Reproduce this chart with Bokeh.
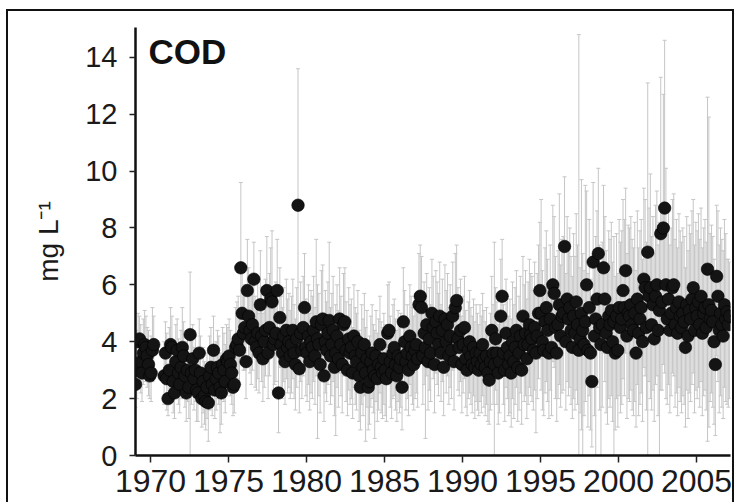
import math
from bokeh.plotting import figure
from bokeh.models import (ColumnDataSource, Range1d, Whisker, TeeHead, Label,
                          FixedTicker, InlineStyleSheet)
from bokeh.embed import file_html
from bokeh.resources import INLINE

N = None
first_year = 1969
# monthly COD means, Jan 1969 .. Feb 2007 (None = no sample)
cod_mean = [
    2.5, 3.0, 4.0, 4.1, 3.3, 2.9, 3.6, 3.9, 3.8, 3.5, 3.2, 2.8,      # 1969
    2.9, 3.7, 3.9, N, N, N, N, N, N, N, 2.8, 3.6,                    # 1970
    2.7, 2.0, 3.0, 3.9, 3.8, 2.6, 2.2, 3.3, 3.7, 2.9, 2.5, 3.1,      # 1971
    3.8, 3.5, 2.8, 2.2, 3.0, 2.4, 4.25, 2.9, 3.4, 2.7, 3.0, 2.3,     # 1972
    2.2, 3.6, 2.9, 2.0, 2.6, 2.1, 1.9, 2.4, 1.85, 2.8, 3.1, 2.5,     # 1973
    3.7, 2.3, 2.7, 3.1, 2.9, 2.4, 2.2, 3.2, 3.0, 2.6, 3.4, 3.3,      # 1974
    3.5, 3.2, 2.9, 2.4, 2.5, 3.8, 3.9, 4.1, 3.7, 6.6, 5.0, 4.3,      # 1975
    4.5, 3.3, 5.8, 4.9, 4.4, 4.1, 4.6, 6.2, 4.0, 3.8, 4.3, 3.6,      # 1976
    5.3, 4.2, 3.4, 4.0, 4.4, 5.8, 3.6, 4.5, 5.5, 5.4, 3.9, 4.1,      # 1977
    4.3, 5.8, 2.2, 4.85, 3.9, 3.6, 4.2, 3.3, 4.4, 3.8, 4.0, 3.5,     # 1978
    3.9, 4.4, 3.6, 3.2, 4.1, 8.8, 3.05, 4.3, 3.7, 4.5, 5.2, 3.8,     # 1979
    3.6, 4.2, 3.3, 4.0, 3.8, 4.4, 3.5, 4.7, 4.1, 3.9, 3.2, 4.6,      # 1980
    4.8, 2.8, 4.0, 3.7, 4.3, 4.75, 3.5, 3.9, 4.4, 3.1, 3.6, 4.2,     # 1981
    3.4, 4.8, 3.9, 3.2, 4.6, 4.7, 3.7, 3.0, 4.1, 3.6, 3.8, 2.9,      # 1982
    4.2, 3.5, 3.3, 4.0, 2.8, 2.4, 3.6, 3.1, 3.9, 2.9, 3.4, 2.4,      # 1983
    2.6, 3.3, 3.6, 3.0, 2.8, 3.5, 2.7, 3.2, 3.9, 3.1, 2.9, 3.4,      # 1984
    3.0, 2.7, 4.3, 4.4, 3.3, 2.9, 3.6, 3.8, 3.2, 2.8, 3.5, 3.1,      # 1985
    3.4, 2.4, 4.7, 4.0, 3.3, 3.6, 3.0, 4.2, 3.8, 3.5, 3.2, 3.7,      # 1986
    3.9, 3.4, 5.3, 5.6, 5.2, 3.5, 4.3, 3.8, 4.6, 3.3, 4.1, 3.6,      # 1987
    5.0, 4.5, 3.2, 4.7, 4.3, 3.9, 4.9, 3.6, 4.4, 3.1, 4.8, 4.0,      # 1988
    4.6, 3.5, 4.2, 3.7, 4.9, 3.3, 5.2, 5.45, 4.1, 3.8, 4.4, 3.2,     # 1989
    3.9, 4.5, 3.4, 3.0, 3.7, 4.0, 3.5, 3.2, 3.8, 3.1, 3.6, 3.3,      # 1990
    3.0, 3.6, 3.2, 3.9, 3.4, 3.1, 3.5, 2.9, 2.65, 3.3, 4.4, 3.6,     # 1991
    3.2, 4.1, 3.6, 2.9, 3.3, 4.9, 5.6, 3.6, 3.0, 4.3, 3.8, 3.2,      # 1992
    3.5, 2.9, 4.0, 3.3, 3.8, 4.4, 3.1, 3.6, 4.2, 3.0, 4.9, 3.9,      # 1993
    4.3, 3.4, 3.9, 4.6, 4.25, 4.1, 3.7, 4.5, 3.6, 4.2, 5.0, 5.8,     # 1994
    5.0, 4.0, 3.7, 4.7, 5.2, 4.4, 3.6, 4.8, 3.8, 6.0, 5.7, 4.5,      # 1995
    3.6, 4.6, 5.3, 4.2, 4.9, 5.0, 7.35, 4.0, 5.5, 4.8, 5.2, 4.4,     # 1996
    3.8, 4.9, 4.3, 5.4, 4.6, 3.7, 4.1, 5.0, 4.4, 3.9, 4.7, 6.0,      # 1997
    3.7, 5.2, 3.6, 2.6, 6.8, 4.2, 4.8, 5.5, 7.1, 4.5, 3.9, 4.6,      # 1998
    6.6, 5.5, 4.3, 3.8, 4.9, 4.6, 5.1, 4.0, 4.7, 3.6, 4.9, 3.7,      # 1999
    5.2, 4.5, 4.8, 5.8, 5.2, 6.5, 4.2, 5.0, 4.9, 5.3, 4.6, 4.4,      # 2000
    5.0, 3.6, 5.5, 4.3, 4.8, 5.2, 4.0, 6.2, 5.9, 4.5, 7.15, 5.6,     # 2001
    5.9, 4.6, 5.3, 4.1, 5.6, 6.0, 4.4, 5.1, 7.8, 5.4, 8.0, 8.7,      # 2002
    6.0, 4.8, 5.5, 4.4, 5.0, 5.9, 6.0, 4.6, 5.2, 4.3, 5.4, 4.9,      # 2003
    4.5, 5.0, 4.7, 3.8, 5.3, 4.2, 5.1, 4.8, 5.5, 5.9, 4.4, 5.2,      # 2004
    4.9, 5.4, 4.6, 5.6, 4.3, 5.0, 5.2, 4.5, 6.55, 5.3, 4.8, 5.1,     # 2005
    4.7, 4.0, 3.2, 6.3, 5.6, 4.4, 5.0, 4.6, 4.2, 5.3, 4.8, 5.05,     # 2006
    4.6, 4.9,                                                        # 2007
]
cod_upper = [
    3.8, 4.4, 5.0, 4.9, 4.6, 4.1, 4.8, 5.1, 4.9, 4.5, 4.4, 3.9,      # 1969
    4.2, 5.2, 4.9, N, N, N, N, N, N, N, 4.0, 4.7,                    # 1970
    4.3, 3.1, 4.5, 5.2, 4.9, 3.9, 3.4, 4.6, 4.8, 4.1, 3.6, 4.4,      # 1971
    5.2, 4.7, 4.0, 3.4, 4.3, 3.6, 6.45, 4.1, 4.6, 3.8, 4.2, 3.5,     # 1972
    3.5, 4.8, 4.2, 3.0, 3.8, 3.3, 2.9, 3.6, 2.8, 4.2, 4.5, 3.7,      # 1973
    4.9, 3.5, 4.0, 4.4, 4.2, 3.6, 3.4, 4.5, 4.3, 3.9, 4.6, 4.5,      # 1974
    4.8, 4.4, 4.1, 3.6, 3.7, 5.2, 5.4, 5.6, 5.0, 9.6, 6.5, 5.8,      # 1975
    6.0, 4.6, 7.6, 6.6, 6.0, 5.7, 6.3, 7.5, 5.6, 5.3, 6.1, 5.0,      # 1976
    7.2, 5.9, 5.0, 5.7, 6.2, 7.7, 5.2, 6.4, 7.3, 7.9, 5.6, 5.8,      # 1977
    6.1, 7.6, 3.6, 6.6, 5.6, 5.2, 5.9, 4.9, 6.2, 5.5, 5.7, 5.1,      # 1978
    5.6, 6.2, 5.3, 4.8, 5.9, 13.6, 4.6, 6.1, 5.4, 6.3, 7.1, 5.5,     # 1979
    5.3, 6.0, 5.0, 5.8, 5.6, 6.3, 5.2, 7.6, 6.0, 5.7, 4.9, 6.5,      # 1980
    6.7, 4.4, 5.8, 5.4, 6.1, 7.5, 5.2, 5.7, 6.3, 4.7, 5.3, 6.0,      # 1981
    5.1, 6.6, 5.6, 4.9, 6.4, 6.6, 5.4, 4.6, 5.9, 5.3, 5.5, 4.5,      # 1982
    6.0, 5.2, 5.0, 5.8, 4.4, 3.9, 5.3, 4.8, 5.7, 4.5, 5.1, 4.0,      # 1983
    4.2, 4.9, 5.3, 4.6, 4.4, 5.1, 4.3, 4.8, 5.6, 4.7, 4.5, 5.0,      # 1984
    4.6, 4.3, 6.0, 6.1, 4.9, 4.5, 5.3, 5.5, 4.8, 4.4, 5.1, 4.7,      # 1985
    5.0, 3.9, 6.6, 5.8, 4.9, 5.3, 4.6, 6.0, 5.6, 5.2, 4.9, 5.4,      # 1986
    5.7, 5.1, 7.1, 7.4, 7.0, 5.2, 6.1, 5.6, 6.4, 5.0, 5.9, 5.3,      # 1987
    6.9, 6.3, 4.9, 6.5, 6.1, 5.7, 6.8, 5.3, 6.2, 4.8, 6.7, 5.8,      # 1988
    6.4, 5.2, 6.0, 5.4, 6.8, 5.0, 7.1, 7.4, 5.9, 5.5, 6.2, 4.9,      # 1989
    5.6, 6.3, 5.1, 4.6, 5.4, 5.8, 5.2, 4.9, 5.5, 4.7, 5.3, 5.0,      # 1990
    4.6, 5.3, 4.9, 5.7, 5.1, 4.7, 5.2, 4.5, 4.2, 5.0, 6.3, 5.3,      # 1991
    7.5, 5.9, 5.4, 4.6, 5.0, 6.9, 7.6, 5.3, 4.7, 6.2, 5.6, 4.9,      # 1992
    5.5, 4.8, 6.1, 5.3, 5.9, 6.5, 5.0, 5.6, 6.3, 4.9, 7.0, 6.0,      # 1993
    6.5, 5.5, 6.1, 6.9, 6.4, 6.3, 5.8, 6.8, 5.7, 6.4, 7.4, 8.2,      # 1994
    9.0, 6.5, 6.0, 7.3, 7.9, 6.9, 5.9, 7.4, 6.1, 8.8, 8.4, 7.0,      # 1995
    6.0, 7.2, 9.2, 6.7, 7.6, 7.7, 9.8, 6.4, 8.4, 7.5, 8.0, 7.0,      # 1996
    6.3, 7.8, 7.0, 8.5, 7.4, 14.8, 6.6, 9.7, 7.1, 6.5, 9.5, 9.3,     # 1997
    6.4, 8.3, 6.2, 4.9, 9.6, 7.0, 7.7, 8.6, 10.1, 7.4, 6.6, 7.5,     # 1998
    9.5, 8.4, 7.2, 6.5, 7.9, 7.6, 8.2, 6.8, 7.7, 6.3, 7.8, 6.4,      # 1999
    8.3, 7.5, 7.9, 9.0, 8.3, 9.4, 7.1, 8.1, 8.0, 8.4, 7.6, 7.3,      # 2000
    8.2, 6.5, 8.6, 7.3, 7.9, 8.3, 6.9, 9.4, 9.0, 7.5, 13.1, 8.7,     # 2001
    9.9, 7.7, 8.4, 7.1, 8.8, 9.3, 7.4, 8.2, 13.3, 8.5, 12.7, 14.6,   # 2002
    10.1, 7.9, 8.6, 7.4, 8.0, 9.0, 9.2, 7.6, 8.3, 7.3, 8.5, 7.9,     # 2003
    7.5, 8.0, 7.7, 6.6, 8.4, 7.2, 8.1, 7.8, 8.6, 9.0, 7.4, 8.2,      # 2004
    7.9, 8.5, 7.6, 8.7, 7.3, 8.0, 8.3, 7.5, 12.6, 11.9, 7.8, 8.1,    # 2005
    7.7, 6.9, 6.1, 8.8, 8.6, 7.4, 8.0, 7.6, 7.2, 8.3, 7.8, 6.9,      # 2006
    6.9, 6.8,                                                        # 2007
]
cod_lower = [
    1.7, 2.0, 2.9, 3.1, 2.2, 1.9, 2.5, 2.9, 2.6, 2.4, 2.1, 2.0,      # 1969
    1.9, 2.6, 2.8, N, N, N, N, N, N, N, 1.8, 2.6,                    # 1970
    1.6, 1.4, 1.9, 2.8, 2.7, 1.5, 1.3, 2.2, 2.6, 1.8, 1.5, 2.0,      # 1971
    2.7, 2.4, 1.7, 1.2, 1.9, 1.3, 0.0, 1.8, 2.3, 1.6, 1.9, 1.2,      # 1972
    1.2, 2.5, 1.8, 1.0, 1.5, 1.1, 0.9, 1.3, 0.5, 1.6, 2.0, 1.4,      # 1973
    2.6, 1.3, 1.6, 2.0, 1.8, 0.8, 1.1, 2.1, 1.9, 1.5, 2.3, 2.2,      # 1974
    2.4, 2.1, 1.8, 1.4, 1.5, 2.6, 2.7, 2.9, 2.5, 3.6, 3.5, 3.0,      # 1975
    3.0, 2.0, 4.0, 3.2, 2.9, 2.5, 3.0, 4.6, 2.4, 2.3, 2.7, 2.2,      # 1976
    3.4, 2.6, 1.9, 2.4, 2.8, 3.9, 2.0, 2.8, 3.6, 3.5, 2.3, 2.5,      # 1977
    2.6, 4.0, 0.8, 3.1, 2.3, 2.0, 2.6, 1.8, 2.7, 2.2, 2.4, 2.0,      # 1978
    2.2, 2.7, 2.0, 1.6, 2.4, 4.0, 1.5, 2.6, 2.0, 2.8, 3.3, 2.1,      # 1979
    1.9, 2.5, 1.6, 2.2, 2.0, 2.6, 1.8, 2.8, 0.6, 2.1, 1.5, 2.8,      # 1980
    2.9, 1.2, 2.2, 1.9, 2.5, 2.8, 1.8, 2.1, 2.6, 1.4, 0.7, 2.4,      # 1981
    1.7, 2.9, 2.1, 1.5, 2.8, 2.9, 1.9, 1.4, 2.3, 1.8, 2.0, 1.3,      # 1982
    2.4, 1.8, 1.6, 2.2, 1.2, 0.9, 1.8, 1.4, 2.1, 0.5, 1.7, 0.9,      # 1983
    1.1, 1.7, 2.0, 1.5, 0.6, 1.9, 1.2, 1.6, 2.2, 1.5, 1.3, 1.8,      # 1984
    1.4, 1.2, 2.6, 2.7, 1.7, 1.3, 2.0, 2.1, 1.6, 1.2, 1.9, 1.5,      # 1985
    1.7, 0.9, 2.9, 2.3, 1.6, 2.0, 1.4, 2.5, 2.1, 1.8, 1.6, 2.0,      # 1986
    2.2, 1.7, 3.5, 3.8, 3.4, 1.8, 2.5, 0.6, 2.8, 1.6, 2.3, 1.9,      # 1987
    3.1, 2.7, 1.5, 2.9, 2.5, 2.1, 3.0, 1.9, 2.6, 1.4, 2.9, 2.2,      # 1988
    2.8, 1.8, 2.4, 2.0, 3.0, 1.6, 3.3, 3.5, 2.3, 2.1, 2.6, 1.5,      # 1989
    2.2, 2.7, 1.7, 1.4, 2.0, 2.2, 1.8, 1.5, 2.1, 1.3, 1.9, 1.6,      # 1990
    1.4, 1.9, 1.5, 2.1, 1.7, 1.4, 1.8, 1.2, 1.1, 1.6, 2.5, 1.8,      # 1991
    0.0, 2.3, 1.8, 1.1, 1.5, 2.9, 3.6, 1.8, 1.2, 2.4, 2.0, 1.4,      # 1992
    1.5, 1.0, 2.0, 1.3, 1.8, 2.4, 1.2, 1.6, 2.2, 1.1, 2.9, 1.9,      # 1993
    2.1, 1.3, 1.8, 2.4, 2.1, 1.9, 1.6, 2.3, 0.8, 2.0, 2.7, 3.4,      # 1994
    2.3, 1.6, 1.4, 2.2, 2.6, 1.9, 1.3, 2.3, 1.4, 3.3, 3.1, 2.0,      # 1995
    1.2, 2.0, 2.5, 1.7, 2.2, 2.3, 4.6, 1.6, 2.6, 2.1, 2.4, 1.8,      # 1996
    1.3, 2.0, 1.6, 2.3, 1.8, 0.0, 1.5, 0.9, 0.0, 1.4, 1.9, 2.7,      # 1997
    1.0, 2.1, 0.9, 0.3, 3.8, 1.4, 0.0, 2.4, 4.1, 1.6, 0.0, 1.7,      # 1998
    3.6, 2.6, 1.5, 1.1, 2.0, 1.7, 2.1, 1.2, 0.0, 0.9, 2.0, 1.0,      # 1999
    2.1, 1.5, 1.8, 2.7, 2.1, 3.6, 1.3, 2.0, 1.9, 2.3, 1.6, 1.4,      # 2000
    1.9, 1.0, 2.5, 1.4, 1.8, 2.2, 1.2, 3.1, 2.8, 1.6, 0.0, 2.6,      # 2001
    2.0, 1.6, 2.3, 1.2, 2.5, 2.8, 1.4, 0.0, 2.3, 2.3, 3.2, 2.9,      # 2002
    2.0, 1.8, 2.5, 1.5, 2.1, 2.9, 2.8, 1.7, 2.2, 1.4, 2.4, 1.9,      # 2003
    1.5, 2.1, 1.8, 1.0, 2.3, 1.3, 2.2, 1.9, 2.5, 2.9, 1.5, 2.3,      # 2004
    2.0, 2.4, 1.7, 2.6, 1.4, 2.1, 2.3, 1.6, 0.5, 1.0, 1.9, 2.2,      # 2005
    1.7, 1.1, 0.7, 3.5, 2.6, 1.5, 2.1, 1.7, 1.3, 2.4, 1.9, 1.8,      # 2006
    1.7, 2.0,                                                        # 2007
]
year_ticks = [1970, 1975, 1980, 1985, 1990, 1995, 2000, 2005]
value_ticks = [0, 2, 4, 6, 8, 10, 12, 14]

t, m, hi, lo = [], [], [], []
for i, v in enumerate(cod_mean):
    if v is None:
        continue
    t.append(first_year + (i + 0.5) / 12.0)
    m.append(v)
    hi.append(cod_upper[i])
    lo.append(cod_lower[i])
src = ColumnDataSource(dict(t=t, m=m, hi=hi, lo=lo))

FONT = "Liberation Sans"
frame_css = InlineStyleSheet(css="""
:host::after {
  content: "";
  position: absolute;
  left: 6px; top: 9px; width: 728px; height: 493px;
  box-sizing: border-box;
  border-left: 2px solid #111; border-top: 2px solid #111;
  border-right: 2px solid #111; border-bottom: none;
  pointer-events: none; z-index: 50;
}
""")

p = figure(width=735, height=502, output_backend="svg", toolbar_location=None,
           x_range=Range1d(1969.04, 2007.18), y_range=Range1d(0, 15.05),
           min_border_left=135, min_border_right=5, min_border_top=27,
           min_border_bottom=47)
p.stylesheets = [frame_css]
p.xgrid.visible = False
p.ygrid.visible = False
p.outline_line_color = None
p.background_fill_color = "white"
p.border_fill_color = "white"

wh = Whisker(source=src, base="t", upper="hi", lower="lo",
             line_color="#c6c6c6", line_width=1, level="underlay",
             upper_head=TeeHead(size=4, line_color="#c6c6c6", line_width=1),
             lower_head=TeeHead(size=4, line_color="#c6c6c6", line_width=1))
p.add_layout(wh)

p.scatter("t", "m", source=src, size=12.5, fill_color="#141414",
          line_color="#000000", line_width=0.6)

for ax in (p.xaxis[0], p.yaxis[0]):
    ax.axis_line_width = 2.5
    ax.axis_line_color = "#111111"
    ax.major_tick_line_width = 1.5
    ax.major_tick_line_color = "#222222"
    ax.minor_tick_line_color = None
    ax.major_tick_in = 0
    ax.major_label_text_font = FONT
    ax.major_label_text_color = "#1a1a1a"

p.xaxis.ticker = FixedTicker(ticks=year_ticks)
p.xaxis.major_tick_out = 7
p.xaxis.major_label_text_font_size = "32px"
p.xaxis.major_label_standoff = 7

p.yaxis.ticker = FixedTicker(ticks=value_ticks)
p.yaxis.major_tick_out = 6
p.yaxis.major_label_text_font_size = "29px"
p.yaxis.major_label_standoff = 12
p.yaxis.axis_label = "mg L\u207b\u00b9"
p.yaxis.axis_label_text_font = FONT
p.yaxis.axis_label_text_font_size = "28px"
p.yaxis.axis_label_text_font_style = "normal"
p.yaxis.axis_label_text_color = "#1a1a1a"
p.yaxis.axis_label_standoff = 18

p.add_layout(Label(x=1969.87, y=14.9, text="COD", text_font=FONT,
                   text_font_size="35px", text_font_style="bold",
                   text_color="#111111", text_baseline="top"))

open("out.html", "w").write(file_html(p, INLINE))
